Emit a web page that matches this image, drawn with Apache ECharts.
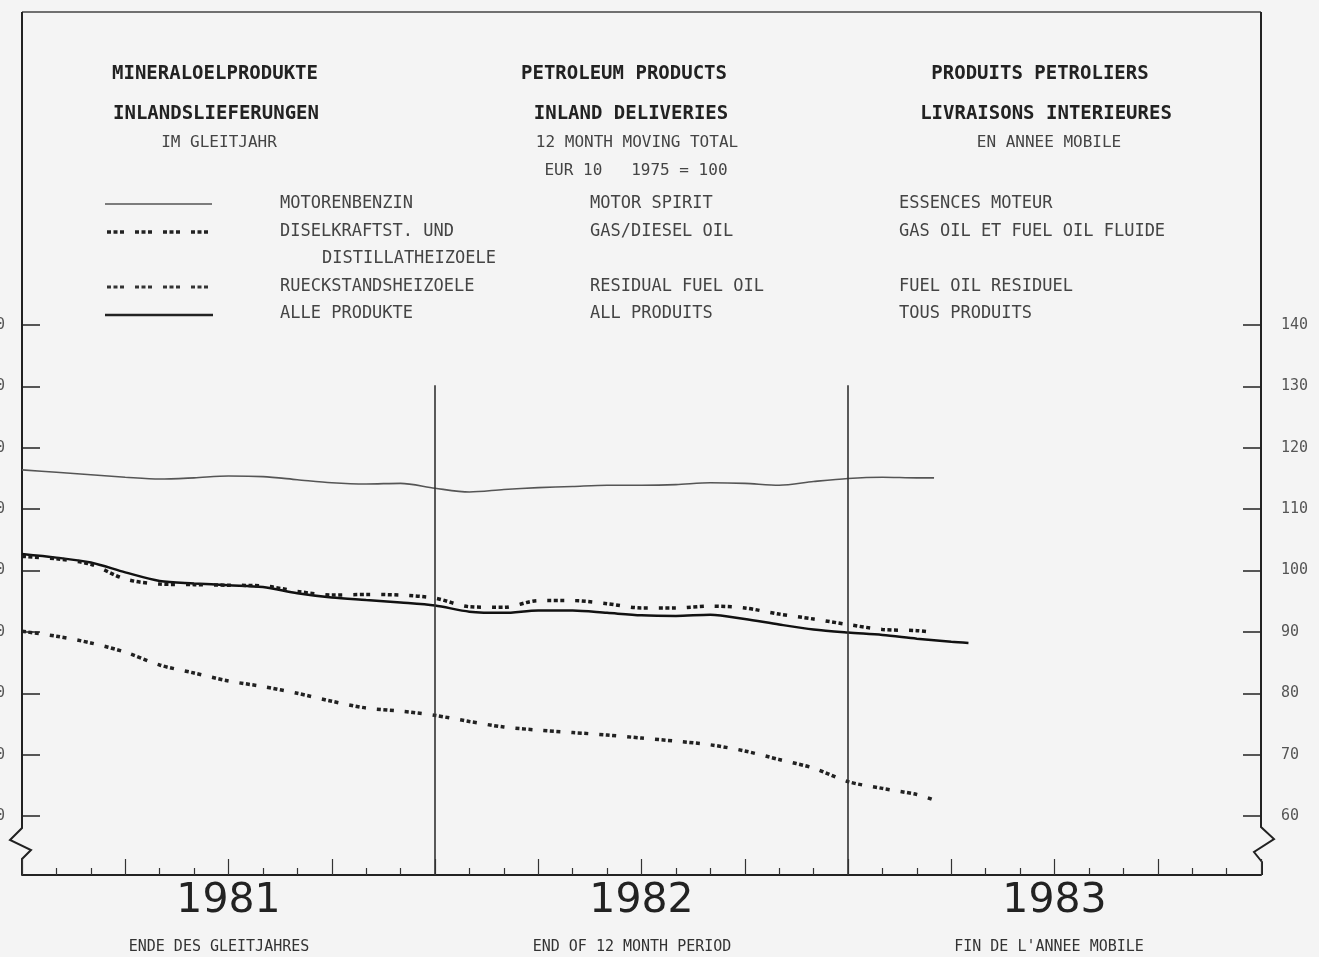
<!DOCTYPE html>
<html>
<head>
<meta charset="utf-8">
<script src="https://cdn.jsdelivr.net/npm/echarts@6/dist/echarts.min.js"></script>
<style>
html,body{margin:0;padding:0;background:#f4f4f4;}
#chart{width:1319px;height:957px;}
</style>
</head>
<body>
<div id="chart"></div>
<script>
// ---- data (x = months since start of 1981, value = index EUR10 1975=100) ----
const monthsShort = [0,1,2,3,4,5,6,7,8,9,10,11,12,13,14,15,16,17,18,19,20,21,22,23,24,25,26,26.5];
const monthsAll   = [0,1,2,3,4,5,6,7,8,9,10,11,12,13,14,15,16,17,18,19,20,21,22,23,24,25,26,27,27.5];
const motorSpirit = [116.4,116.0,115.6,115.2,114.9,115.1,115.4,115.3,114.8,114.3,114.1,114.2,113.4,112.8,113.2,113.5,113.7,113.9,113.9,114.0,114.3,114.2,113.9,114.5,115.0,115.2,115.1,115.1];
const gasDiesel   = [102.3,101.9,101.0,98.6,97.8,97.7,97.6,97.5,96.6,96.0,96.1,96.0,95.5,94.1,94.0,95.1,95.1,94.6,93.9,93.9,94.2,93.9,92.9,92.1,91.2,90.4,90.2,89.9];
const residual    = [90.1,89.3,88.2,86.7,84.6,83.3,82.0,81.1,80.0,78.7,77.6,77.1,76.4,75.4,74.5,74.0,73.6,73.2,72.7,72.2,71.6,70.6,69.2,67.8,65.6,64.5,63.5,62.6];
const allProducts = [102.7,102.1,101.3,99.7,98.3,97.9,97.6,97.3,96.3,95.6,95.2,94.8,94.3,93.3,93.1,93.5,93.5,93.1,92.7,92.6,92.8,92.1,91.2,90.4,89.9,89.5,88.9,88.4,88.2];
const yTicks = [60,70,80,90,100,110,120,130,140];
const yearCenters = [6,18,30];
const yearLabels = ['1981','1982','1983'];
const yearBoundaries = [12,24];
const yearLineTop = 130.2;
const yMin = 50.39, yMax = 191.0;

const pairs = (xs, ys) => xs.map((x,i)=>[x, ys[i]]);

const MONO = '"DejaVu Sans Mono", "Liberation Mono", monospace';
const ink = '#222';
const soft = '#444';

function txt(x, y, s, opt) {
  opt = opt || {};
  return {
    type:'text', x:x, y:y, silent:true,
    style:{
      text:s, fill:opt.fill||soft, font:(opt.bold?'bold ':'')+(opt.size||17)+'px '+MONO,
      textAlign:opt.align||'left', textVerticalAlign:'middle'
    }
  };
}
function seg(points, stroke, w, dash) {
  return { type:'polyline', silent:true, shape:{points:points},
    style:{stroke:stroke, lineWidth:w, fill:null, lineDash:dash||null} };
}

const dotted = [4,2.5,4,2.5,4,11];

const graphics = [
  // frame
  seg([[22,12],[1261,12]], '#444', 1.5),
  seg([[22,12],[22,828],[10,840],[31,850],[22,859],[22,875]], ink, 2),
  seg([[1261,12],[1261,827],[1274,839],[1254,852],[1262,862],[1262,875]], ink, 2),
  // header
  txt(215,74,'MINERALOELPRODUKTE',{bold:true,size:19,align:'center',fill:ink}),
  txt(216,114,'INLANDSLIEFERUNGEN',{bold:true,size:19,align:'center',fill:ink}),
  txt(219,143,'IM GLEITJAHR',{size:16,align:'center'}),
  txt(624,74,'PETROLEUM PRODUCTS',{bold:true,size:19,align:'center',fill:ink}),
  txt(631,114,'INLAND DELIVERIES',{bold:true,size:19,align:'center',fill:ink}),
  txt(637,143,'12 MONTH MOVING TOTAL',{size:16,align:'center'}),
  txt(636,171,'EUR 10   1975 = 100',{size:16,align:'center'}),
  txt(1040,74,'PRODUITS PETROLIERS',{bold:true,size:19,align:'center',fill:ink}),
  txt(1046,114,'LIVRAISONS INTERIEURES',{bold:true,size:19,align:'center',fill:ink}),
  txt(1049,143,'EN ANNEE MOBILE',{size:16,align:'center'}),
  // legend
  seg([[105,204],[212,204]], '#555', 1.4),
  seg([[107,232],[212,232]], ink, 3.5, dotted),
  seg([[107,287],[212,287]], '#333', 3, dotted),
  seg([[105,315],[213,315]], ink, 2.5),
  txt(280,204,'MOTORENBENZIN'),
  txt(590,204,'MOTOR SPIRIT'),
  txt(899,204,'ESSENCES MOTEUR'),
  txt(280,232,'DISELKRAFTST. UND'),
  txt(590,232,'GAS/DIESEL OIL'),
  txt(899,232,'GAS OIL ET FUEL OIL FLUIDE'),
  txt(322,259,'DISTILLATHEIZOELE'),
  txt(280,287,'RUECKSTANDSHEIZOELE'),
  txt(590,287,'RESIDUAL FUEL OIL'),
  txt(899,287,'FUEL OIL RESIDUEL'),
  txt(280,314,'ALLE PRODUKTE'),
  txt(590,314,'ALL PRODUITS'),
  txt(899,314,'TOUS PRODUITS'),
  // footer captions
  txt(219,947,'ENDE DES GLEITJAHRES',{size:15,align:'center',fill:'#333'}),
  txt(632,947,'END OF 12 MONTH PERIOD',{size:15,align:'center',fill:'#333'}),
  txt(1049,947,"FIN DE L'ANNEE MOBILE",{size:15,align:'center',fill:'#333'})
];

const yAxisBase = (pos, margin) => ({
  type:'value', min:yMin, max:yMax, position:pos,
  axisLine:{show:false},
  axisTick:{show:true, inside:true, length:18, customValues:yTicks, lineStyle:{color:ink, width:1.5}},
  axisLabel:{customValues:yTicks, margin:margin, fontSize:15, color:'#555', fontFamily:MONO},
  splitLine:{show:false}
});

const chart = echarts.init(document.getElementById('chart'), null, {renderer:'canvas'});
chart.setOption({
  backgroundColor:'#f4f4f4',
  animation:false,
  grid:{left:22, right:58, top:12, bottom:82, containLabel:false, outerBoundsMode:'none'},
  xAxis:{
    type:'value', min:0, max:36, interval:3,
    axisLine:{show:true, onZero:false, lineStyle:{color:ink, width:2}},
    axisTick:{show:true, inside:true, length:16, lineStyle:{color:'#333', width:1.2}},
    minorTick:{show:true, splitNumber:3, length:7, lineStyle:{color:'#333', width:1.2}},
    splitLine:{show:false}, minorSplitLine:{show:false},
    axisLabel:{
      customValues:yearCenters, margin:5,
      formatter:(v)=>yearLabels[yearCenters.indexOf(v)],
      fontSize:41, lineHeight:42, color:ink, fontFamily:'"DejaVu Sans", sans-serif'
    }
  },
  yAxis:[ yAxisBase('left',17), yAxisBase('right',20) ],
  graphic: graphics,
  series:[
    {
      name:'MOTORENBENZIN', type:'line', data:pairs(monthsShort, motorSpirit),
      showSymbol:false, smooth:0.3, lineStyle:{color:'#555', width:1.6}
    },
    {
      name:'ALLE PRODUKTE', type:'line', data:pairs(monthsAll, allProducts),
      showSymbol:false, smooth:0.3, lineStyle:{color:'#111', width:2.5},
      markLine:{
        silent:true, symbol:'none', label:{show:false},
        lineStyle:{color:'#333', width:1.6, type:'solid'},
        data: yearBoundaries.map(x=>[{coord:[x, yearLineTop]},{coord:[x, yMin]}])
      }
    },
    {
      name:'DISELKRAFTST. UND DISTILLATHEIZOELE', type:'line', data:pairs(monthsShort, gasDiesel),
      showSymbol:false, smooth:0.3, lineStyle:{color:'#1a1a1a', width:3.5, type:dotted}
    },
    {
      name:'RUECKSTANDSHEIZOELE', type:'line', data:pairs(monthsShort, residual),
      showSymbol:false, smooth:0.3, lineStyle:{color:'#222', width:3.5, type:dotted}
    }
  ]
});
</script>
</body>
</html>
